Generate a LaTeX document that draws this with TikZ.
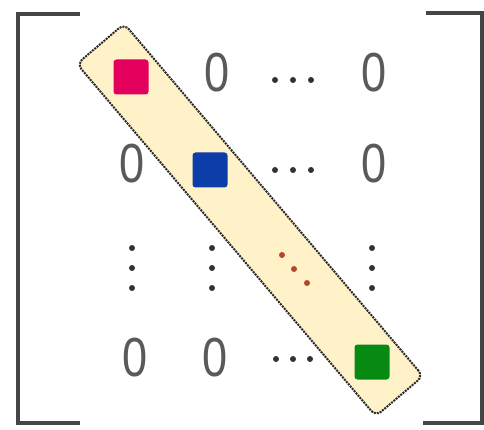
\documentclass[tikz,border=0pt]{standalone}
\usepackage{fontspec}
\setmainfont{Liberation Sans}
\definecolor{bracketgray}{HTML}{454545}
\definecolor{textgray}{HTML}{5A5A5A}
\definecolor{bandyellow}{HTML}{FFF1C8}
\definecolor{bandborder}{HTML}{2A2A2A}
\definecolor{sqpink}{HTML}{E2005C}
\definecolor{sqblue}{HTML}{0C3DA8}
\definecolor{sqgreen}{HTML}{078A12}
\definecolor{diagdot}{HTML}{B04A2C}
\definecolor{dotgray}{HTML}{333333}
\begin{document}
\begin{tikzpicture}[x=1pt,y=-1pt,
  bracket/.style={draw=bracketgray,line width=4pt},
  band/.style={fill=bandyellow,draw=bandborder,line width=2pt,dash pattern=on 2pt off 1pt,rounded corners=7pt,minimum width=462pt,minimum height=62pt,inner sep=0pt},
  entry/.style={text=textgray,font=\fontsize{55}{55}\selectfont,inner sep=0pt,xscale=0.82},
  sq/.style={minimum size=35pt,inner sep=0pt,rounded corners=3pt},
  dotg/.style={fill=dotgray,circle,minimum size=6pt,inner sep=0pt},
  dotr/.style={fill=diagdot,circle,minimum size=6pt,inner sep=0pt}]
\useasboundingbox (0,0) rectangle (484,430);
\fill[white] (0,0) rectangle (484,430);
% brackets
\draw[bracket] (80,14) -- (18,14) -- (18,423) -- (80,423);
\draw[bracket] (426,13) -- (482,13) -- (482,423) -- (423,423);
% diagonal band
\node[band,rotate=-49.7] (band) at (250,220) {};
% row 1
\node[sq,fill=sqpink] (a11) at (131,77) {};
\node[entry] (a12) at (217,73) {0};
\node[dotg] (h1a) at (275,80) {};
\node[dotg] (h1b) at (293,80) {};
\node[dotg] (h1c) at (311,80) {};
\node[entry] (a14) at (374,73) {0};
% row 2
\node[entry] (a21) at (132,164) {0};
\node[sq,fill=sqblue] (a22) at (210,170) {};
\node[dotg] (h2a) at (275,170) {};
\node[dotg] (h2b) at (293,170) {};
\node[dotg] (h2c) at (311,170) {};
\node[entry] (a24) at (374,164) {0};
% row 3
\node[dotg] (v1a) at (132,248) {};
\node[dotg] (v1b) at (132,268) {};
\node[dotg] (v1c) at (132,288) {};
\node[dotg] (v2a) at (212,248) {};
\node[dotg] (v2b) at (212,268) {};
\node[dotg] (v2c) at (212,288) {};
\node[dotr] (d1) at (282,255) {};
\node[dotr] (d2) at (294,269) {};
\node[dotr] (d3) at (307,283) {};
\node[dotg] (v4a) at (372,248) {};
\node[dotg] (v4b) at (372,268) {};
\node[dotg] (v4c) at (372,288) {};
% row 4
\node[entry] (a41) at (135,358) {0};
\node[entry] (a42) at (215,358) {0};
\node[dotg] (h4a) at (276,359) {};
\node[dotg] (h4b) at (293,359) {};
\node[dotg] (h4c) at (310,359) {};
\node[sq,fill=sqgreen] (a44) at (372,362) {};
\end{tikzpicture}
\end{document}
